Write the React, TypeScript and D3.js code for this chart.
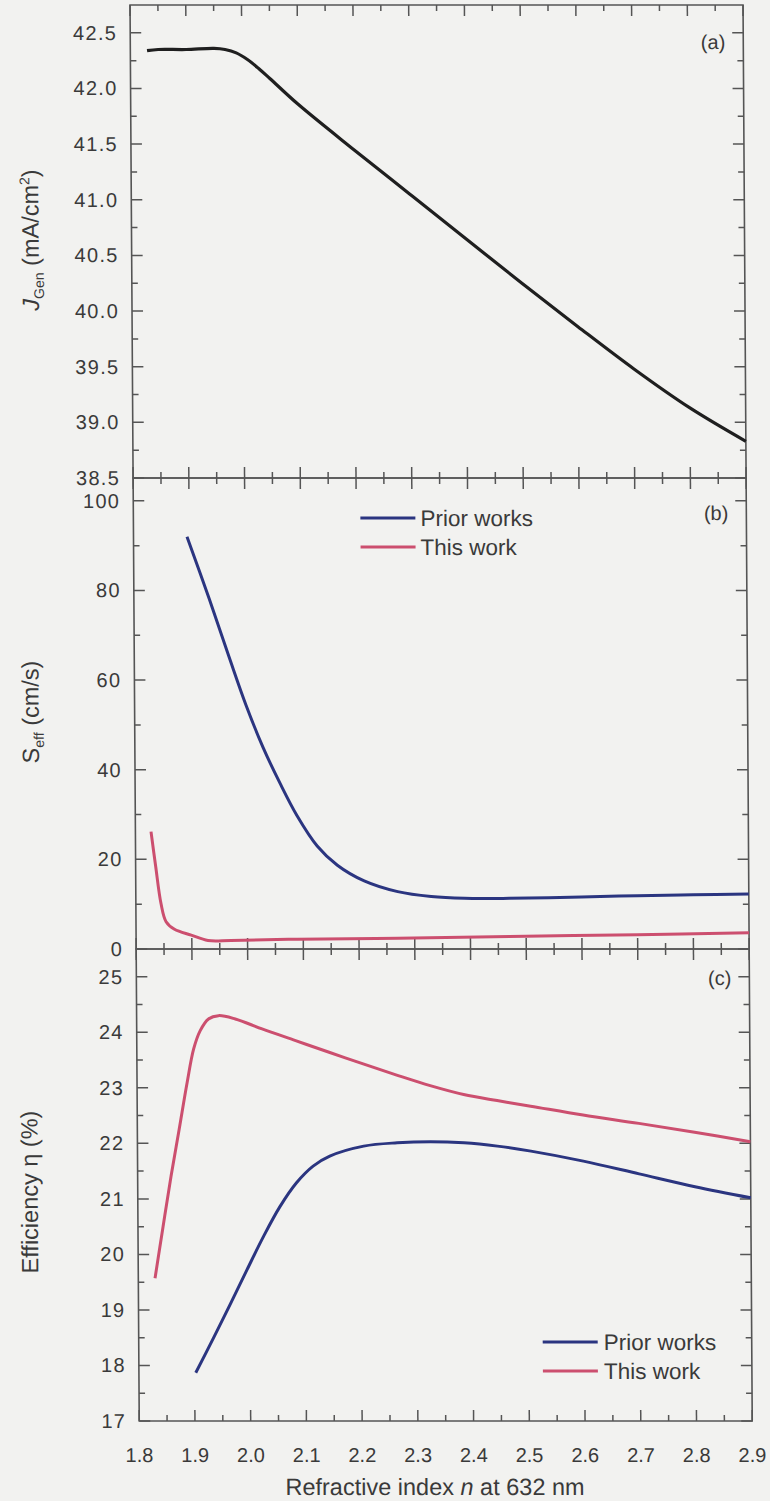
import React from 'react';
import * as d3 from 'd3';

// ---------- data ----------
const nJ = [1.83, 1.85, 1.9, 1.95, 1.97, 1.99, 2.01, 2.03, 2.05, 2.1, 2.2, 2.3, 2.4, 2.5, 2.6, 2.7, 2.8, 2.9];
const jGen = [42.34, 42.35, 42.35, 42.36, 42.35, 42.32, 42.26, 42.18, 42.09, 41.86, 41.45, 41.05, 40.65, 40.25, 39.86, 39.48, 39.13, 38.83];

const nSPrior = [1.896, 1.935, 1.97, 2.0, 2.03, 2.06, 2.09, 2.126, 2.162, 2.21, 2.27, 2.33, 2.39, 2.47, 2.6, 2.7, 2.8, 2.9];
const sPrior = [92.0, 78.2, 65.2, 54.4, 45.0, 37.0, 29.8, 23.0, 18.7, 15.2, 12.8, 11.7, 11.3, 11.3, 11.6, 11.9, 12.1, 12.3];
const nSThis = [1.828, 1.836, 1.845, 1.854, 1.869, 1.899, 1.929, 1.97, 2.09, 2.27, 2.47, 2.7, 2.9];
const sThis = [26.2, 18.4, 10.2, 6.1, 4.4, 3.1, 1.9, 1.9, 2.2, 2.4, 2.8, 3.2, 3.6];

const nEThis = [1.83, 1.845, 1.86, 1.875, 1.89, 1.902, 1.914, 1.929, 1.947, 1.977, 2.025, 2.085, 2.145, 2.206, 2.266, 2.326, 2.386, 2.446, 2.506, 2.6, 2.7, 2.8, 2.9];
const eThis = [19.57, 20.5, 21.41, 22.25, 23.1, 23.7, 24.03, 24.24, 24.3, 24.24, 24.06, 23.85, 23.64, 23.43, 23.23, 23.04, 22.88, 22.77, 22.67, 22.51, 22.36, 22.2, 22.03];
const nEPrior = [1.902, 1.935, 1.965, 1.995, 2.025, 2.055, 2.085, 2.115, 2.145, 2.206, 2.266, 2.326, 2.386, 2.446, 2.506, 2.6, 2.7, 2.8, 2.9];
const ePrior = [17.87, 18.51, 19.11, 19.72, 20.32, 20.86, 21.29, 21.59, 21.77, 21.95, 22.01, 22.03, 22.01, 21.95, 21.86, 21.68, 21.45, 21.22, 21.02];

const xTickLabels = ['1.8', '1.9', '2.0', '2.1', '2.2', '2.3', '2.4', '2.5', '2.6', '2.7', '2.8', '2.9'];
const yTicksA = ['38.5', '39.0', '39.5', '40.0', '40.5', '41.0', '41.5', '42.0', '42.5'];
const yTicksB = ['0', '20', '40', '60', '80', '100'];
const yTicksC = ['17', '18', '19', '20', '21', '22', '23', '24', '25'];
const seriesNames = ['Prior works', 'This work'];

// ---------- style ----------
const BG = '#f2f2f0';
const AX = '#555';
const TXT = '#3a3a3a';
const BLUE = '#2b3580';
const RED = '#cc4f6f';
const BLACK = '#1f1f1f';
const FONT = '"Liberation Sans", Arial, Helvetica, sans-serif';

const W = 770;
const H = 1501;
const L = 130;
const R = 743;
const SKEW = (Math.atan(0.0065) * 180) / Math.PI;

const x = d3.scaleLinear().domain([1.8, 2.9]).range([L, R]);

type PanelProps = {
  top: number;
  bottom: number;
  domain: [number, number];
  major: number[];
  minor: number[];
  labels: string[];
  tag: string;
  tagY: number;
};

function Panel(p: PanelProps) {
  const y = d3.scaleLinear().domain(p.domain).range([p.bottom, p.top]);
  const xMajor = xTickLabels.map((t) => +t);
  const xMinor = d3.range(1.85, 2.9, 0.1);
  const MJ = 11;
  const MN = 6;
  return (
    <g>
      <rect x={L} y={p.top} width={R - L} height={p.bottom - p.top} fill="none" stroke={AX} strokeWidth={1.6} />
      {xMajor.map((v, i) => (
        <g key={'xm' + i}>
          <line x1={x(v)} x2={x(v)} y1={p.bottom} y2={p.bottom - MJ} stroke={AX} strokeWidth={1.5} />
          <line x1={x(v)} x2={x(v)} y1={p.top} y2={p.top + MJ} stroke={AX} strokeWidth={1.5} />
        </g>
      ))}
      {xMinor.map((v, i) => (
        <g key={'xn' + i}>
          <line x1={x(v)} x2={x(v)} y1={p.bottom} y2={p.bottom - MN} stroke={AX} strokeWidth={1.5} />
          <line x1={x(v)} x2={x(v)} y1={p.top} y2={p.top + MN} stroke={AX} strokeWidth={1.5} />
        </g>
      ))}
      {p.major.map((v, i) => (
        <g key={'ym' + i}>
          <line x1={L} x2={L + MJ} y1={y(v)} y2={y(v)} stroke={AX} strokeWidth={1.5} />
          <line x1={R} x2={R - MJ} y1={y(v)} y2={y(v)} stroke={AX} strokeWidth={1.5} />
          <text x={L - 13} y={y(v) + 7} textAnchor="end" fontSize={20} fill={TXT} fontFamily={FONT} letterSpacing={1.3}>
            {p.labels[i]}
          </text>
        </g>
      ))}
      {p.minor.map((v, i) => (
        <g key={'yn' + i}>
          <line x1={L} x2={L + MN} y1={y(v)} y2={y(v)} stroke={AX} strokeWidth={1.5} />
          <line x1={R} x2={R - MN} y1={y(v)} y2={y(v)} stroke={AX} strokeWidth={1.5} />
        </g>
      ))}
      <text x={R - 18} y={p.tagY} textAnchor="end" fontSize={20} fill={TXT} fontFamily={FONT}>
        {p.tag}
      </text>
    </g>
  );
}

function curve(xs: number[], ys: number[], y: d3.ScaleLinear<number, number>) {
  const pts = xs.map((v, i) => [v, ys[i]] as [number, number]);
  return d3
    .line<[number, number]>()
    .x((d) => x(d[0]))
    .y((d) => y(d[1]))
    .curve(d3.curveCatmullRom.alpha(0.5))(pts) as string;
}

export default function App() {
  const yA = d3.scaleLinear().domain([38.5, 42.75]).range([478, 5]);
  const yB = d3.scaleLinear().domain([0, 105.1]).range([949, 478]);
  const yC = d3.scaleLinear().domain([17, 25.5]).range([1421, 949]);

  const ticksA = yTicksA.map((t) => +t);
  const ticksB = yTicksB.map((t) => +t);
  const ticksC = yTicksC.map((t) => +t);

  return (
    <svg width={W} height={H} style={{ position: 'absolute', left: 0, top: 0 }} fontFamily={FONT}>
      <rect x={0} y={0} width={W} height={H} fill={BG} />
      <g transform={`skewX(${SKEW})`}>
        <Panel top={5} bottom={478} domain={[38.5, 42.75]} major={ticksA} minor={d3.range(38.75, 42.75, 0.5)} labels={yTicksA} tag="(a)" tagY={49} />
        <Panel top={478} bottom={949} domain={[0, 105.1]} major={ticksB} minor={d3.range(10, 105, 20)} labels={yTicksB} tag="(b)" tagY={520} />
        <Panel top={949} bottom={1421} domain={[17, 25.5]} major={ticksC} minor={d3.range(17.5, 25.5, 1)} labels={yTicksC} tag="(c)" tagY={985} />

        <path d={curve(nJ, jGen, yA)} fill="none" stroke={BLACK} strokeWidth={3.2} strokeLinejoin="round" />
        <path d={curve(nSPrior, sPrior, yB)} fill="none" stroke={BLUE} strokeWidth={3} strokeLinejoin="round" />
        <path d={curve(nSThis, sThis, yB)} fill="none" stroke={RED} strokeWidth={3} strokeLinejoin="round" />
        <path d={curve(nEThis, eThis, yC)} fill="none" stroke={RED} strokeWidth={3} strokeLinejoin="round" />
        <path d={curve(nEPrior, ePrior, yC)} fill="none" stroke={BLUE} strokeWidth={3} strokeLinejoin="round" />

        {[BLUE, RED].map((c, i) => (
          <g key={'lb' + i}>
            <line x1={357} x2={412} y1={518 + i * 29} y2={518 + i * 29} stroke={c} strokeWidth={3} />
            <text x={417} y={526 + i * 29} fontSize={22.5} fill={TXT}>{seriesNames[i]}</text>
          </g>
        ))}
        {[BLUE, RED].map((c, i) => (
          <g key={'lc' + i}>
            <line x1={534} x2={589} y1={1342 + i * 29} y2={1342 + i * 29} stroke={c} strokeWidth={3} />
            <text x={595} y={1350 + i * 29} fontSize={22.5} fill={TXT}>{seriesNames[i]}</text>
          </g>
        ))}

        {xTickLabels.map((t, i) => (
          <text key={'xl' + i} x={x(+t)} y={1462} textAnchor="middle" fontSize={20} fill={TXT}>
            {t}
          </text>
        ))}
        <text x={x(2.33)} y={1495} textAnchor="middle" fontSize={23.5} fill={TXT}>
          Refractive index <tspan fontStyle="italic">n</tspan> at 632 nm
        </text>

        <text transform={`translate(37,240) rotate(-90)`} textAnchor="middle" fontSize={23.5} fill={TXT}>
          <tspan fontStyle="italic">J</tspan>
          <tspan dy={5} fontSize={14}>Gen</tspan>
          <tspan dy={-5}> (mA/cm</tspan>
          <tspan dy={-9} fontSize={14}>2</tspan>
          <tspan dy={9}>)</tspan>
        </text>
        <text transform={`translate(34,712) rotate(-90)`} textAnchor="middle" fontSize={23.5} fill={TXT}>
          <tspan>S</tspan>
          <tspan dy={5} fontSize={14}>eff</tspan>
          <tspan dy={-5}> (cm/s)</tspan>
        </text>
        <text transform={`translate(30,1192) rotate(-90)`} textAnchor="middle" fontSize={23.5} fill={TXT}>
          Efficiency η (%)
        </text>
      </g>
    </svg>
  );
}
